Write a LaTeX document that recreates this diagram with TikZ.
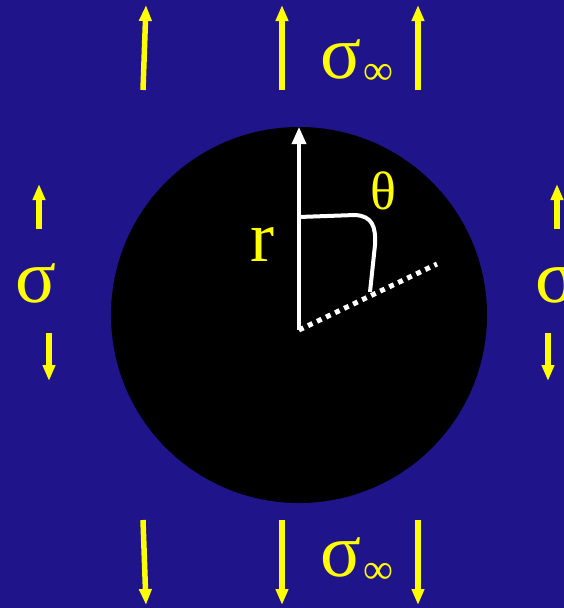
\documentclass[tikz,border=0pt]{standalone}
\usepackage{fontspec}
\setmainfont{Liberation Serif}
\usetikzlibrary{arrows.meta}
\definecolor{bgblue}{RGB}{31,20,137}
\definecolor{yel}{RGB}{255,255,0}
\tikzset{
  force/.style={draw=yel, line width=5.5pt, -{Triangle[width=12pt,length=16pt]}},
  radial/.style={draw=white, line width=3.5pt, -{Triangle[width=14pt,length=17pt]}},
  big/.style={text=yel, inner sep=0pt, font=\fontsize{76}{76}\selectfont},
  sub/.style={text=yel, inner sep=0pt, font=\fontsize{42}{42}\selectfont},
}
\begin{document}
\begin{tikzpicture}[x=1pt,y=-1pt]
\fill[bgblue] (0,0) rectangle (564,608);
\useasboundingbox (0,0) rectangle (564,608);
% body
\node[circle, fill=black, minimum size=376pt, inner sep=0pt] (hole) at (299,315) {};
\coordinate (o) at (299,330);
\coordinate (rtip) at (299,127);
\coordinate (dend) at (437,264);
\draw[radial] (o) -- (rtip);
\draw[white, line width=5pt, dash pattern=on 5pt off 5pt] (o) -- (dend);
\draw[white, line width=4pt] (299,217) -- (355,215) .. controls (372,216) and (376,226) .. (375,245) -- (370,292);
\node[text=yel, inner sep=0pt, font=\fontsize{54}{54}\selectfont] (th) at (383,191) {θ};
\node[text=yel, inner sep=0pt, font=\fontsize{72}{72}\selectfont] (r) at (262,245) {r};
% top arrows
\coordinate (t1a) at (143,90); \coordinate (t1b) at (146,5);
\coordinate (t2a) at (282,90); \coordinate (t2b) at (282,5);
\coordinate (t3a) at (418,90); \coordinate (t3b) at (418,5);
\draw[force] (t1a) -- (t1b);
\draw[force] (t2a) -- (t2b);
\draw[force] (t3a) -- (t3b);
\node[big] (st) at (341,59) {σ};
\node[sub] (it) at (378,74) {∞};
% bottom arrows
\coordinate (b1a) at (143,520); \coordinate (b1b) at (146,605);
\coordinate (b2a) at (282,520); \coordinate (b2b) at (282,605);
\coordinate (b3a) at (418,520); \coordinate (b3b) at (418,605);
\draw[force] (b1a) -- (b1b);
\draw[force] (b2a) -- (b2b);
\draw[force] (b3a) -- (b3b);
\node[big] (sb) at (341,557) {σ};
\node[sub] (ib) at (378,573) {∞};
% left
\coordinate (l1a) at (39,229); \coordinate (l1b) at (39,184);
\coordinate (l2a) at (49,333); \coordinate (l2b) at (49,381);
\draw[force] (l1a) -- (l1b);
\draw[force] (l2a) -- (l2b);
\node[big] (sl) at (36,283) {σ};
% right
\coordinate (r1a) at (557,229); \coordinate (r1b) at (557,184);
\coordinate (r2a) at (548,333); \coordinate (r2b) at (548,381);
\draw[force] (r1a) -- (r1b);
\draw[force] (r2a) -- (r2b);
\node[big] (sr) at (556,283) {σ};
\end{tikzpicture}
\end{document}
